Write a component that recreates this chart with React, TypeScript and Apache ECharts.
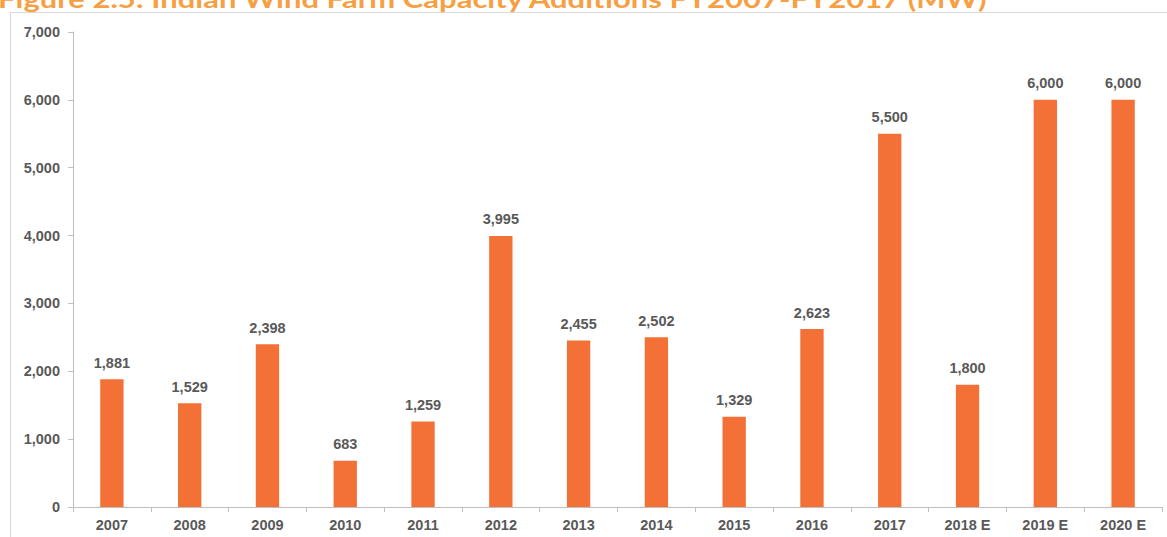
import React, { useEffect, useRef } from "react";
import * as echarts from "echarts";

const categories = ["2007", "2008", "2009", "2010", "2011", "2012", "2013", "2014", "2015", "2016", "2017", "2018 E", "2019 E", "2020 E"];
const capacityMW = [1881, 1529, 2398, 683, 1259, 3995, 2455, 2502, 1329, 2623, 5500, 1800, 6000, 6000];
const titleText = "Figure 2.5: Indian Wind Farm Capacity Additions FY2007-FY2017 (MW)";

const labelFont = "Arial, 'Liberation Sans', sans-serif";

export default function App() {
  const ref = useRef<HTMLDivElement>(null);
  useEffect(() => {
    const chart = echarts.init(ref.current!, null, { renderer: "svg" });
    chart.setOption({
      animation: false,
      backgroundColor: "#ffffff",
      graphic: [
        {
          type: "text",
          x: -2,
          y: -14,
          scaleX: 1.24,
          style: {
            text: titleText,
            fill: "#F7A043",
            font: "bold 25px Lato, 'Noto Sans', sans-serif",
          },
          z: 10,
        },
        {
          type: "line",
          shape: { x1: 10, y1: 12.5, x2: 1167, y2: 12.5 },
          style: { stroke: "#D9D9D9", lineWidth: 1 },
        },
        {
          type: "line",
          shape: { x1: 10.5, y1: 12, x2: 10.5, y2: 537 },
          style: { stroke: "#D9D9D9", lineWidth: 1 },
        },
      ],
      grid: { left: 73, right: 5, top: 32, bottom: 30 },
      xAxis: {
        type: "category",
        data: categories,
        axisLine: { lineStyle: { color: "#BFBFBF" } },
        axisTick: { show: true, length: 5, lineStyle: { color: "#BFBFBF" } },
        axisLabel: {
          color: "#595959",
          fontWeight: "bold",
          fontSize: 14.5,
          fontFamily: labelFont,
          margin: 10,
          interval: 0,
        },
      },
      yAxis: {
        type: "value",
        min: 0,
        max: 7000,
        interval: 1000,
        axisLine: { show: true, lineStyle: { color: "#BFBFBF" } },
        axisTick: { show: true, length: 5, lineStyle: { color: "#BFBFBF" } },
        splitLine: { show: false },
        axisLabel: {
          color: "#595959",
          fontWeight: "bold",
          fontSize: 14.5,
          fontFamily: labelFont,
          margin: 13,
          formatter: (v: number) => v.toLocaleString("en-US"),
        },
      },
      series: [
        {
          type: "bar",
          data: capacityMW,
          barWidth: "30%",
          itemStyle: { color: "#F37036" },
          label: {
            show: true,
            position: "top",
            distance: 9,
            color: "#595959",
            fontWeight: "bold",
            fontSize: 14.5,
            fontFamily: labelFont,
            formatter: (p: any) => Number(p.value).toLocaleString("en-US"),
          },
        },
      ],
    });
    return () => chart.dispose();
  }, []);
  return (
    <div
      ref={ref}
      style={{ position: "fixed", left: 0, top: 0, width: 1167, height: 537 }}
    />
  );
}
